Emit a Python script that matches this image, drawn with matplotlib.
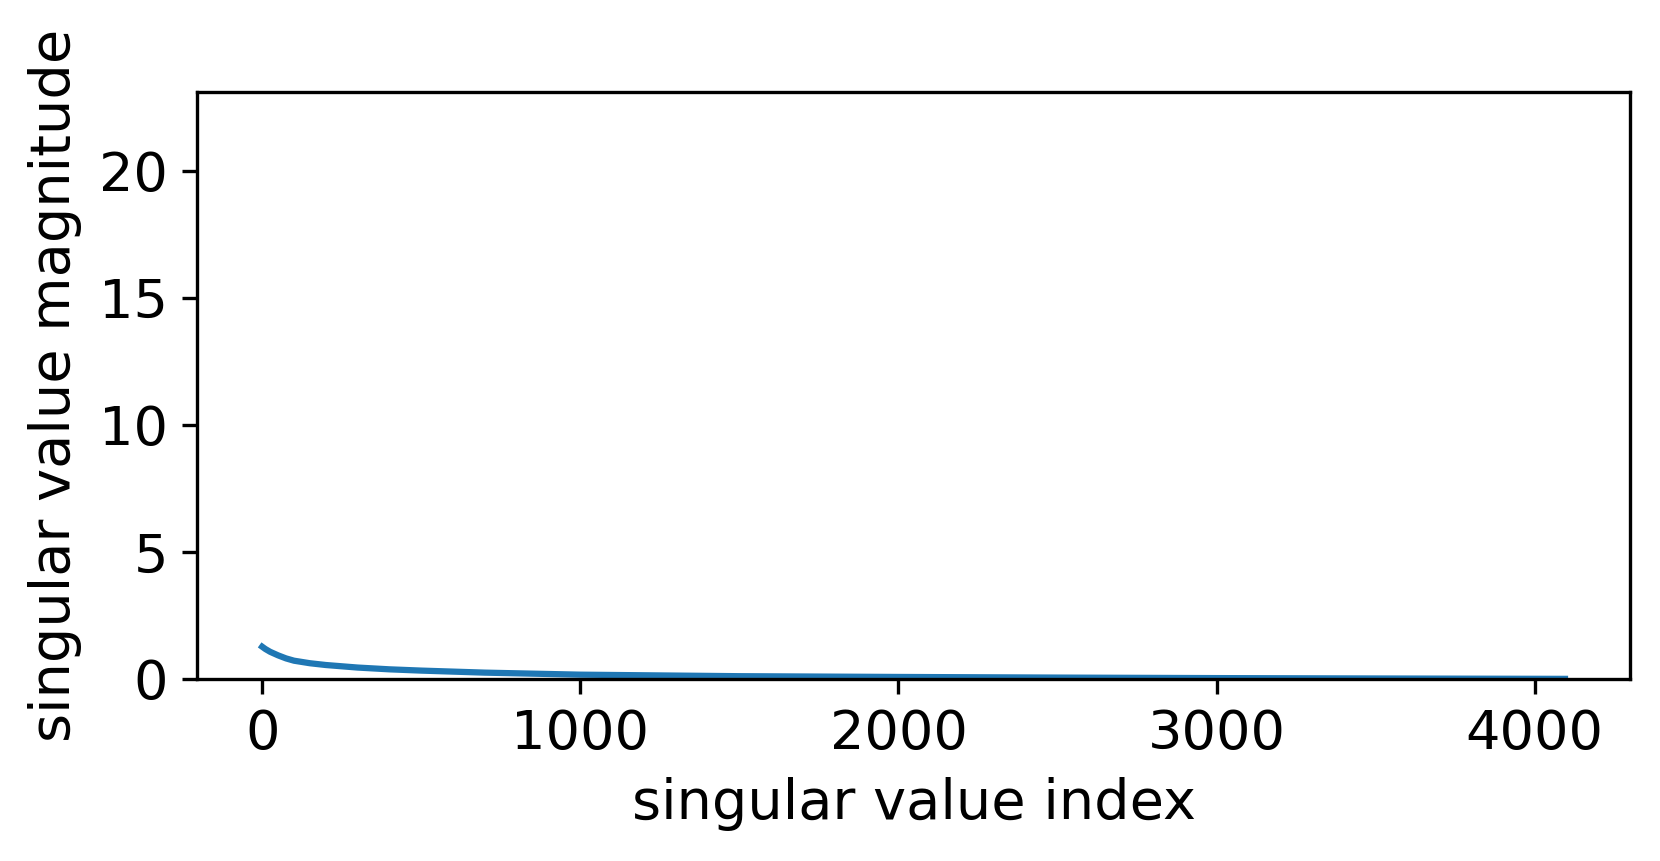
import matplotlib
matplotlib.use("Agg")
import matplotlib.pyplot as plt

sv_index = [0, 10, 25, 50, 75, 100, 150, 200, 300, 400, 500, 600, 700, 850,
            1000, 1250, 1500, 1750, 2000, 2500, 3000, 3500, 3800, 4095]
sv_value = [1.27, 1.18, 1.07, 0.93, 0.81, 0.72, 0.62, 0.55, 0.45, 0.38, 0.33,
            0.29, 0.25, 0.21, 0.17, 0.14, 0.11, 0.095, 0.08, 0.055, 0.035,
            0.02, 0.012, 0.005]

fig = plt.figure(figsize=(1660/300, 861/300), dpi=300)
ax = fig.add_axes([0.1187, 0.2114, 0.982-0.1187, 0.893-0.2114])
ax.plot(sv_index, sv_value, color="#1f77b4", lw=1.5)
ax.set_ylim(0, 23.1)
ax.set_yticks([0, 5, 10, 15, 20])
ax.set_xticks([0, 1000, 2000, 3000, 4000])
ax.tick_params(labelsize=13)
ax.set_xlabel("singular value index", fontsize=13.4)
ax.set_ylabel("singular value magnitude", fontsize=13.4)
fig.savefig("out.png", dpi=300)
